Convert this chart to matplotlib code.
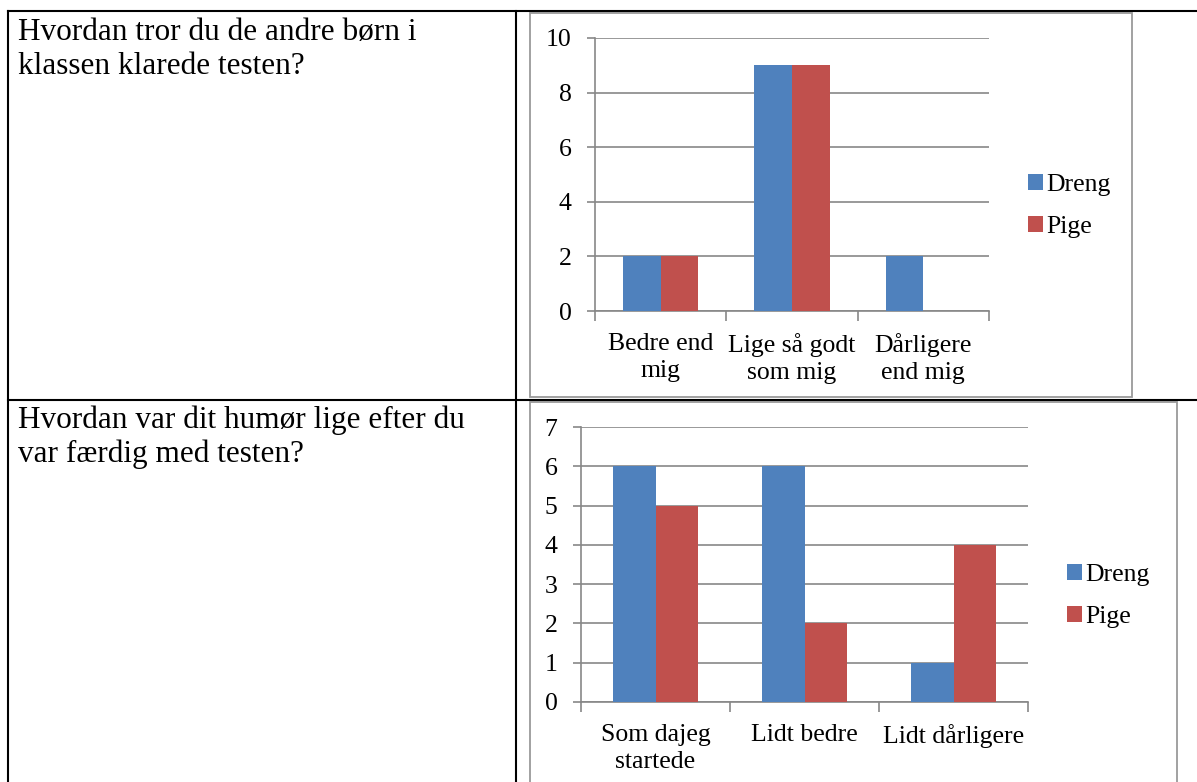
import matplotlib
matplotlib.use("Agg")
import matplotlib.pyplot as plt
from matplotlib.patches import Rectangle, Patch
from matplotlib.lines import Line2D

W, H = 1197, 782

# survey answers, boys vs girls
series_names = ["Dreng", "Pige"]
colors = ["#4F81BD", "#C0504D"]

q1_lines = ["Hvordan tror du de andre børn i", "klassen klarede testen?"]
q1_categories = ["Bedre end\nmig", "Lige så godt\nsom mig", "Dårligere\nend mig"]
q1_dreng = [2, 9, 2]
q1_pige = [2, 9, 0]
q1_ymax = 10
q1_yticks = [0, 2, 4, 6, 8, 10]

q2_lines = ["Hvordan var dit humør lige efter du", "var færdig med testen?"]
q2_categories = ["Som dajeg\nstartede", "Lidt bedre", "Lidt dårligere"]
q2_dreng = [6, 6, 1]
q2_pige = [5, 2, 4]
q2_ymax = 7
q2_yticks = [0, 1, 2, 3, 4, 5, 6, 7]

FONT = "Liberation Serif"
GRID = "#878787"
FS = 18.5


def px_rect(x0, y0, x1, y1):
    return [x0 / W, 1 - y1 / H, (x1 - x0) / W, (y1 - y0) / H]


def fx(x):
    return x / W


def fy(y):
    return 1 - y / H


def draw_chart(fig, rect, categories, dreng, pige, ymax, yticks, legend_xy):
    ax = fig.add_axes(px_rect(*rect))
    n = len(categories)
    xs = list(range(n))
    w = 1 / 3.5  # gap width 150%
    for vals, c, off in ((dreng, colors[0], -w / 2), (pige, colors[1], w / 2)):
        ax.bar([x + off for x in xs], vals, width=w, color=c, zorder=3)
    ax.set_xlim(-0.5, n - 0.5)
    ax.set_ylim(0, ymax)
    ax.set_yticks(yticks)
    ax.set_yticklabels([str(t) for t in yticks], fontfamily=FONT, fontsize=FS)
    ax.tick_params(axis="y", length=6, width=1.2, color=GRID, pad=11)
    ax.set_xticks([i - 0.5 for i in range(n + 1)])
    ax.set_xticklabels([""] * (n + 1))
    ax.tick_params(axis="x", which="major", length=7, width=1.2, color=GRID)
    ax.set_xticks(xs, minor=True)
    ax.set_xticklabels(categories, minor=True, fontfamily=FONT, fontsize=FS,
                       linespacing=1.3)
    ax.tick_params(axis="x", which="minor", length=0, pad=16)
    ax.yaxis.grid(True, color=GRID, lw=1.2, zorder=0)
    for s in ("top", "right"):
        ax.spines[s].set_visible(False)
    for s in ("left", "bottom"):
        ax.spines[s].set_color(GRID)
        ax.spines[s].set_linewidth(1.2)
    ax.set_axisbelow(True)

    handles = [Patch(facecolor=c) for c in colors]
    fig.legend(handles, series_names, loc="center left",
               bbox_to_anchor=(fx(legend_xy[0]), fy(legend_xy[1])),
               bbox_transform=fig.transFigure, frameon=False,
               prop={"family": FONT, "size": FS},
               handlelength=0.58, handleheight=0.58, handletextpad=0.12,
               labelspacing=0.75, borderpad=0, borderaxespad=0)
    return ax


fig = plt.figure(figsize=(W / 100, H / 100), dpi=100)

# table grid
black = dict(color="black", lw=1.5, transform=fig.transFigure)
fig.add_artist(Line2D([fx(8), 1], [fy(11), fy(11)], **black))
fig.add_artist(Line2D([fx(8), 1], [fy(399.5), fy(399.5)], **black))
fig.add_artist(Line2D([fx(8), fx(8)], [fy(11), 0], **black))
fig.add_artist(Line2D([fx(516), fx(516)], [fy(11), 0], **black))

# chart frames
fig.add_artist(Rectangle((fx(530), fy(397)), fx(1132) - fx(530), fy(13) - fy(397),
                         transform=fig.transFigure, fill=False, ec="#9a9a9a", lw=1.3))
fig.add_artist(Rectangle((fx(530), fy(790)), fx(1177) - fx(530), fy(402) - fy(790),
                         transform=fig.transFigure, fill=False, ec="#9a9a9a", lw=1.3))

# question texts, one baseline per line
for lines, top in ((q1_lines, 40), (q2_lines, 428)):
    for i, line in enumerate(lines):
        fig.text(fx(18), fy(top + 34 * i), line, fontfamily=FONT, fontsize=22.5,
                 va="baseline", ha="left")

draw_chart(fig, (595, 38, 989, 311), q1_categories, q1_dreng, q1_pige,
           q1_ymax, q1_yticks, (1028, 206))
draw_chart(fig, (581, 427, 1028, 702), q2_categories, q2_dreng, q2_pige,
           q2_ymax, q2_yticks, (1067, 596))

fig.savefig("out.png", dpi=100)
